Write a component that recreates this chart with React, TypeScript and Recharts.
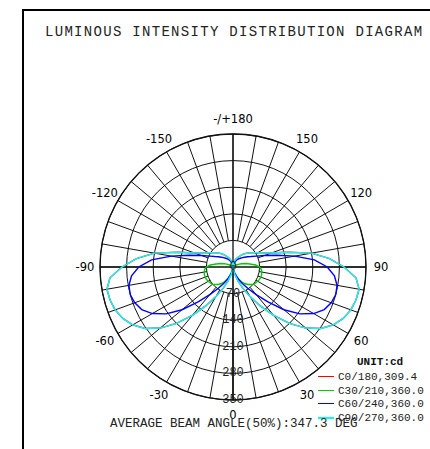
import React from 'react';
import { RadarChart, Radar, PolarGrid, PolarAngleAxis, PolarRadiusAxis } from 'recharts';

// gamma angles of one half-plane (0 = straight down, 180 = straight up)
const gammas = [
  0, 5, 10, 15, 20, 25, 30, 35, 40, 45, 50, 55, 60, 65, 70, 75, 80, 85, 90,
  95, 100, 105, 110, 115, 120, 125, 130, 135, 140, 145, 150, 155, 160, 165, 170, 175, 180,
];

// intensities in cd (curves are symmetric left/right)
// C0/180 is not visible in the picture, it lies under the C90/270 curve
const c0_180 = [
  0, 3, 10, 22, 40, 62, 90, 125, 165, 210, 250, 282, 305, 320, 330, 335, 337, 325, 292,
  255, 210, 150, 108, 88, 75, 66, 58, 51, 45, 38, 32, 27, 22, 16, 10, 5, 0,
];
const c30_210 = [
  0, 4, 10, 17, 25, 35, 45, 53, 60, 65, 70, 73, 75, 77, 78, 78, 77, 75, 70,
  60, 45, 35, 25, 18, 12, 8, 6, 4, 3, 2, 0, 0, 0, 0, 0, 0, 0,
];
const c60_240 = [
  0, 3, 8, 15, 25, 38, 52, 70, 95, 130, 175, 215, 245, 265, 275, 280, 278, 268, 248,
  215, 165, 120, 88, 68, 55, 47, 40, 35, 30, 26, 22, 18, 14, 10, 7, 3, 0,
];
const c90_270 = [
  0, 3, 10, 22, 40, 62, 90, 125, 165, 210, 250, 282, 305, 320, 330, 335, 337, 325, 292,
  255, 210, 150, 108, 88, 75, 66, 58, 51, 45, 38, 32, 27, 22, 16, 10, 5, 0,
];

const ringTicks = [0, 70, 140, 210, 280, 350];
const angleTicks = [0, 30, 60, 90, 120, 150, 180, 210, 240, 270, 300, 330];
const maxCd = 350;

const legendNames = ['C0/180,309.4', 'C30/210,360.0', 'C60/240,360.0', 'C90/270,360.0'];
const legendColors = ['#ff0000', '#00cc00', '#0000ff', '#00ffff'];

const rows: any[] = [];
for (let a = 0; a < 360; a += 5) {
  const g = a <= 180 ? a : 360 - a;
  const i = gammas.indexOf(g);
  rows.push({ angle: a, c0: c0_180[i], c30: c30_210[i], c60: c60_240[i], c90: c90_270[i] });
}

const spokeAngles: number[] = [];
for (let a = 0; a < 360; a += 10) spokeAngles.push(a);

const W = 430;
const H = 449;
const CX = 233;
const CY = 267;
const R = 133;

const angleLabel = (a: number) => {
  if (a === 180) return '-/+180';
  return a > 180 ? String(a - 360) : String(a);
};

const AngleTick = (props: any) => {
  const { x, y, payload } = props;
  return (
    <text x={x} y={y} textAnchor="middle" dominantBaseline="central" fontFamily="DejaVu Sans" fontSize={11.5} fill="#000">
      {angleLabel(Number(payload.value))}
    </text>
  );
};

const RadiusTick = (props: any) => {
  const { x, y, payload } = props;
  return (
    <text x={x} y={y} textAnchor="middle" dominantBaseline="central" fontFamily="Liberation Mono" fontSize={12} fill="#222">
      {payload.value}
    </text>
  );
};

const mono = '"Liberation Mono", "Courier New", monospace';

export default function App() {
  const layer: React.CSSProperties = { position: 'absolute', left: 0, top: 0 };
  return (
    <div style={{ position: 'absolute', left: 0, top: 0, width: W, height: H, overflow: 'hidden', background: '#fff' }}>
      <div style={{ position: 'absolute', left: 22, top: 9, width: 420, height: 460, borderLeft: '2px solid #000', borderTop: '2px solid #000' }} />

      {/* grid: rings + 10 degree spokes from the first ring outwards */}
      <div style={layer}>
        <RadarChart width={W} height={H} cx={CX} cy={CY} innerRadius={(R * 70) / maxCd} outerRadius={R}
          data={rows} startAngle={-90} endAngle={270} margin={{ top: 0, right: 0, bottom: 0, left: 0 }}>
          <PolarGrid gridType="circle" polarAngles={spokeAngles}
            polarRadius={ringTicks.slice(1).map((v) => (R * v) / maxCd)} stroke="#111" strokeWidth={1} />
        </RadarChart>
      </div>

      {/* axes, labels and curves */}
      <div style={layer}>
        <RadarChart width={W} height={H} cx={CX} cy={CY} innerRadius={0} outerRadius={R}
          data={rows} startAngle={-90} endAngle={270} margin={{ top: 0, right: 0, bottom: 0, left: 0 }}>
          <PolarGrid gridType="circle" polarAngles={[0, 90, 180, 270]} polarRadius={[R]} stroke="#111" strokeWidth={1.3} />
          <PolarAngleAxis dataKey="angle" type="number" domain={[0, 360]} ticks={angleTicks} tickSize={15}
            tickLine={false} axisLine={false} tick={<AngleTick />} />
          <PolarRadiusAxis angle={-90} domain={[0, maxCd]} ticks={ringTicks} tickLine={false}
            axisLine={{ stroke: '#111', strokeWidth: 1 }} tick={<RadiusTick />} />
          <Radar dataKey="c0" stroke={legendColors[0]} fill="none" fillOpacity={0} strokeWidth={1.4} dot={false} isAnimationActive={false} />
          <Radar dataKey="c30" stroke={legendColors[1]} fill="none" fillOpacity={0} strokeWidth={1.4} dot={false} isAnimationActive={false} />
          <Radar dataKey="c60" stroke={legendColors[2]} fill="none" fillOpacity={0} strokeWidth={1.4} dot={false} isAnimationActive={false} />
          <Radar dataKey="c90" stroke={legendColors[3]} fill="none" fillOpacity={0} strokeWidth={1.4} dot={false} isAnimationActive={false} />
        </RadarChart>
      </div>

      <div style={{ position: 'absolute', left: 45, top: 24, fontFamily: mono, fontSize: 14, letterSpacing: 1.3, lineHeight: '16px', color: '#222', whiteSpace: 'nowrap' }}>
        LUMINOUS INTENSITY DISTRIBUTION DIAGRAM
      </div>

      <div style={{ position: 'absolute', left: 357, top: 355, fontFamily: mono, fontSize: 11, fontWeight: 'bold', lineHeight: '14px', color: '#111' }}>
        UNIT:cd
      </div>
      {legendNames.map((name, i) => (
        <div key={name} style={{ position: 'absolute', left: 318, top: 370 + i * 13.5, height: 14, whiteSpace: 'nowrap' }}>
          <div style={{ position: 'absolute', left: 0, top: 6, width: 16, height: i === 3 ? 2 : 1.3, background: legendColors[i] }} />
          <div style={{ position: 'absolute', left: 20, top: 0, fontFamily: mono, fontSize: 11, lineHeight: '14px', color: '#222' }}>{name}</div>
        </div>
      ))}

      <div style={{ position: 'absolute', left: 110, top: 416, fontFamily: mono, fontSize: 12.5, lineHeight: '16px', color: '#222', whiteSpace: 'nowrap' }}>
        AVERAGE BEAM ANGLE(50%):347.3 DEG
      </div>
    </div>
  );
}
